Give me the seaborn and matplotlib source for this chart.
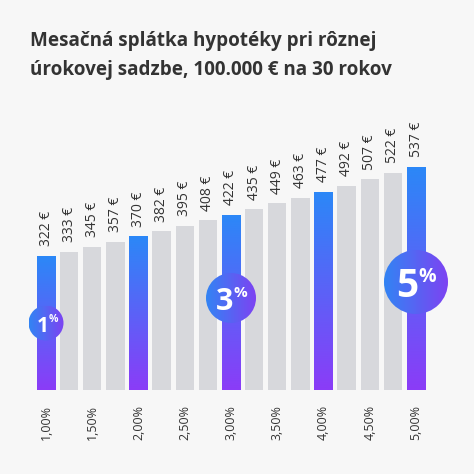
import numpy as np
import pandas as pd
import matplotlib
matplotlib.use("Agg")
import matplotlib.pyplot as plt
import seaborn as sns
from matplotlib.colors import LinearSegmentedColormap
from matplotlib.patches import Ellipse

# ---- data ----
rates = ["1,00%", "1,25%", "1,50%", "1,75%", "2,00%", "2,25%", "2,50%", "2,75%", "3,00%",
         "3,25%", "3,50%", "3,75%", "4,00%", "4,25%", "4,50%", "4,75%", "5,00%"]
payments = [322, 333, 345, 357, 370, 382, 395, 408, 422, 435, 449, 463, 477, 492, 507, 522, 537]
highlighted = [True, False, False, False, True, False, False, False, True,
               False, False, False, True, False, False, False, True]
badge_bars = [0, 8, 16]
badge_labels = ["1", "3", "5"]
title = "Mesačná splátka hypotéky pri rôznej\núrokovej sadzbe, 100.000 € na 30 rokov"

BG = "#f7f7f7"
GRAY = "#d7d8dc"
BLUE = "#2b88f7"
PURPLE = "#8b3cf7"
TEXT = "#333333"

sns.set_theme(style="white")
plt.rcParams["font.family"] = ["Open Sans", "DejaVu Sans"]

W = H = 474
DPI = 100
PT = 72.0 / DPI  # points per pixel
fig = plt.figure(figsize=(W / DPI, H / DPI), dpi=DPI, facecolor=BG)

# axes placement in pixels
ax_left, ax_right, ax_bottom, ax_top = 0, 474, 390, 100
ax = fig.add_axes([ax_left / W, 1 - ax_bottom / H, (ax_right - ax_left) / W, (ax_bottom - ax_top) / H])
ax.set_facecolor(BG)

x0_px, pitch_px = 46.0, 23.125
xlim = ((ax_left - x0_px) / pitch_px, (ax_right - x0_px) / pitch_px)
px_per_val = 0.4155
ylim = (0, (ax_bottom - ax_top) / px_per_val)

df = pd.DataFrame({"rate": rates, "payment": payments})
colors = [BLUE if h else GRAY for h in highlighted]
sns.barplot(data=df, x="rate", y="payment", hue="rate", palette=colors,
            legend=False, width=0.79, ax=ax, saturation=1, linewidth=0)
ax.set_xlim(*xlim)
ax.set_ylim(*ylim)

bar_cmap = LinearSegmentedColormap.from_list("bar", [BLUE, PURPLE])
grad_v = np.linspace(0, 1, 256).reshape(-1, 1)
for patch, h in zip(ax.patches, highlighted):
    if not h:
        continue
    x, y = patch.get_x(), patch.get_y()
    w, hh = patch.get_width(), patch.get_height()
    im = ax.imshow(grad_v, cmap=bar_cmap, extent=(x, x + w, y, y + hh),
                   aspect="auto", origin="upper", zorder=3)
    im.set_clip_path(patch)

# value labels
for i, v in enumerate(payments):
    ax.annotate(f"{v} €", (i, v), xytext=(0, 7), textcoords="offset points",
                rotation=90, ha="center", va="bottom", fontsize=10, color=TEXT, zorder=5)

# badges
circ_cmap = LinearSegmentedColormap.from_list("circ", ["#3284f4", "#7d43f2"])
grad_h = np.linspace(0, 1, 256).reshape(1, -1)
badge_radius_px = [17.5, 25, 32]
badge_center_px = [323, 298, 282]
digit_size = [15, 22, 28]
for bi, lab, r, cy, ds in zip(badge_bars, badge_labels, badge_radius_px, badge_center_px, digit_size):
    cx_val = bi
    cy_val = (ax_bottom - cy) / px_per_val
    w_val = 2 * r / pitch_px
    h_val = 2 * r / px_per_val
    ell = Ellipse((cx_val, cy_val), w_val, h_val, facecolor="none", edgecolor="none", zorder=6)
    ax.add_patch(ell)
    im = ax.imshow(grad_h, cmap=circ_cmap,
                   extent=(cx_val - w_val / 2, cx_val + w_val / 2, cy_val - h_val / 2, cy_val + h_val / 2),
                   aspect="auto", origin="upper", zorder=6)
    im.set_clip_path(ell)
    dpx = ds / PT  # font size in px
    digit_h = 0.714 * dpx
    # digit baseline placed so visual center sits ~2px below circle centre
    ax.annotate(lab, (cx_val, cy_val), xytext=(2.5 * PT, -(digit_h / 2 + 1.5) * PT),
                textcoords="offset points", ha="right", va="baseline",
                fontsize=ds, fontweight="bold", color="white", zorder=7)
    ax.annotate("%", (cx_val, cy_val), xytext=(2.5 * PT, (digit_h / 2 + 1.5) * PT),
                textcoords="offset points", ha="left", va="top",
                fontsize=ds * 0.5, fontweight="bold", color="white", zorder=7)

# axis styling
ticks = list(range(0, len(rates), 2))
ax.set_xticks(ticks)
ax.set_xticklabels([rates[i] for i in ticks], rotation=90, fontsize=9, color=TEXT)
ax.tick_params(axis="x", length=0, pad=11)
ax.set_yticks([])
ax.set_xlabel("")
ax.set_ylabel("")
for s in ax.spines.values():
    s.set_visible(False)

fig.text(30 / W, 1 - 31 / H, title, ha="left", va="top", fontsize=13.6, fontweight="bold",
         color=TEXT, linespacing=1.6)

fig.savefig("out.png", dpi=DPI, facecolor=BG)
